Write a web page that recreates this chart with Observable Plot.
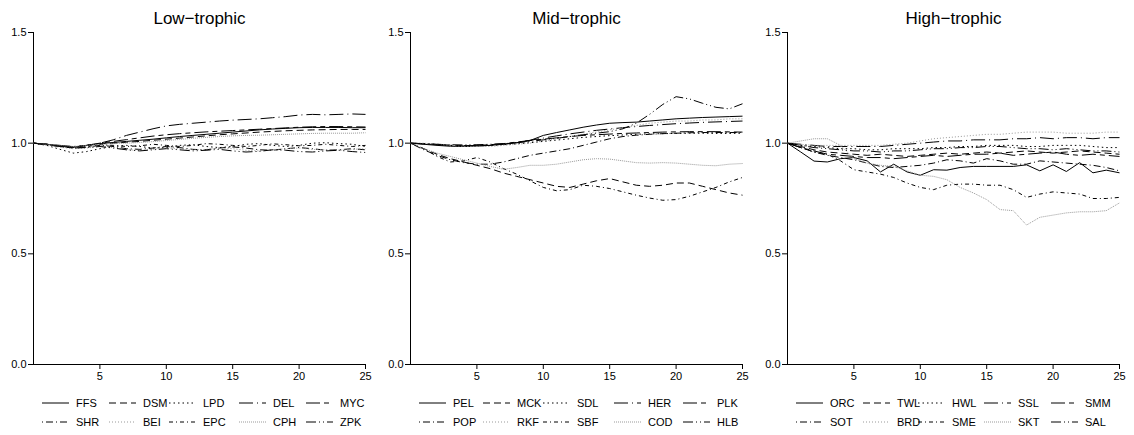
<!DOCTYPE html>
<html>
<head>
<meta charset="utf-8">
<script src="https://cdn.jsdelivr.net/npm/d3@7"></script>
<script src="https://cdn.jsdelivr.net/npm/@observablehq/plot@0.6"></script>
<style>
  html, body { margin: 0; padding: 0; background: #fff; }
  #wrap { position: relative; width: 1134px; height: 435px; font-family: "Liberation Sans", Arial, sans-serif; }
  .panel { position: absolute; top: 0; width: 378px; height: 435px; }
  .panel svg.legend { position: absolute; left: 0; top: 390px; }
</style>
</head>
<body>
<div id="wrap"></div>
<script>
// ---------- data ----------
const xTicks = [5, 10, 15, 20, 25];
const yTicks = [0, 0.5, 1.0, 1.5];
const panelTitles = ["Low\u2212trophic", "Mid\u2212trophic", "High\u2212trophic"];

const lowCodes  = ["FFS", "DSM", "LPD", "DEL", "MYC", "SHR", "BEI", "EPC", "CPH", "ZPK"];
const midCodes  = ["PEL", "MCK", "SDL", "HER", "PLK", "POP", "RKF", "SBF", "COD", "HLB"];
const highCodes = ["ORC", "TWL", "HWL", "SSL", "SMM", "SOT", "BRD", "SME", "SKT", "SAL"];

// values for years 0..25 (one array per group, in the order of the codes)
const lowValues = [
  [1,0.995,0.988,0.982,0.99,0.998,1.003,1.008,1.013,1.018,1.024,1.03,1.035,1.04,1.045,1.05,1.055,1.06,1.064,1.067,1.07,1.071,1.071,1.071,1.07,1.07],
  [1,0.995,0.988,0.982,0.99,0.997,1.0,1.004,1.008,1.013,1.018,1.023,1.028,1.033,1.038,1.042,1.046,1.05,1.053,1.056,1.058,1.06,1.061,1.062,1.062,1.062],
  [1,0.99,0.972,0.955,0.962,0.975,0.985,0.99,0.985,0.978,0.98,0.99,0.993,0.985,0.98,0.985,0.995,0.998,0.99,0.985,0.99,1.0,1.002,0.998,0.995,0.985],
  [1,0.995,0.99,0.985,0.99,1.0,1.015,1.035,1.05,1.065,1.078,1.085,1.09,1.095,1.1,1.104,1.107,1.11,1.115,1.12,1.127,1.13,1.128,1.13,1.132,1.13],
  [1,0.995,0.988,0.982,0.99,1.0,1.008,1.016,1.024,1.032,1.038,1.043,1.047,1.051,1.054,1.057,1.06,1.063,1.066,1.069,1.072,1.074,1.075,1.075,1.074,1.073],
  [1,0.992,0.985,0.978,0.982,0.99,0.985,0.975,0.972,0.978,0.985,0.98,0.972,0.97,0.978,0.983,0.978,0.97,0.968,0.975,0.98,0.975,0.968,0.97,0.975,0.97],
  [1,0.99,0.982,0.975,0.978,0.985,0.98,0.97,0.968,0.972,0.978,0.975,0.97,0.972,0.978,0.975,0.968,0.965,0.97,0.975,0.978,0.972,0.97,0.968,0.972,0.975],
  [1,0.995,0.988,0.98,0.985,0.993,0.99,0.985,0.988,0.995,0.99,0.985,0.99,0.998,0.995,0.99,0.985,0.99,0.997,0.993,0.988,0.99,0.995,0.99,0.985,0.99],
  [1,0.995,0.99,0.985,0.99,0.995,0.998,1.0,1.003,1.007,1.012,1.017,1.022,1.026,1.03,1.033,1.035,1.036,1.038,1.04,1.042,1.044,1.045,1.045,1.045,1.047],
  [1,0.993,0.985,0.978,0.98,0.985,0.978,0.97,0.965,0.97,0.975,0.97,0.965,0.968,0.972,0.965,0.96,0.963,0.97,0.968,0.962,0.96,0.965,0.968,0.962,0.958]
];
const midValues = [
  [1,0.995,0.99,0.986,0.985,0.987,0.99,0.995,1.002,1.012,1.035,1.048,1.06,1.072,1.082,1.09,1.093,1.095,1.1,1.105,1.11,1.113,1.116,1.118,1.12,1.122],
  [1,0.975,0.95,0.93,0.915,0.9,0.885,0.865,0.85,0.835,0.82,0.805,0.8,0.815,0.83,0.84,0.825,0.81,0.805,0.81,0.82,0.82,0.805,0.79,0.775,0.765],
  [1,0.998,0.995,0.99,0.988,0.988,0.99,0.993,0.997,1.002,1.008,1.014,1.02,1.026,1.03,1.034,1.037,1.04,1.042,1.043,1.044,1.045,1.045,1.044,1.044,1.045],
  [1,0.997,0.993,0.99,0.988,0.988,0.99,0.995,1.003,1.013,1.023,1.033,1.042,1.05,1.058,1.064,1.07,1.075,1.08,1.084,1.088,1.091,1.094,1.096,1.098,1.1],
  [1,0.997,0.993,0.99,0.988,0.99,0.993,0.998,1.005,1.012,1.018,1.024,1.03,1.035,1.038,1.041,1.044,1.046,1.048,1.05,1.051,1.052,1.052,1.052,1.051,1.05],
  [1,0.97,0.945,0.925,0.912,0.905,0.905,0.915,0.93,0.945,0.955,0.965,0.975,0.99,1.005,1.02,1.03,1.036,1.04,1.043,1.045,1.047,1.048,1.048,1.048,1.048],
  [1,1.0,0.995,0.99,0.985,0.985,0.985,0.99,0.995,1.0,1.01,1.02,1.03,1.04,1.05,1.06,1.07,1.08,1.09,1.095,1.1,1.1,1.105,1.105,1.11,1.11],
  [1,0.975,0.94,0.915,0.92,0.935,0.915,0.885,0.86,0.83,0.8,0.785,0.79,0.81,0.805,0.795,0.78,0.765,0.752,0.742,0.745,0.76,0.78,0.8,0.825,0.845],
  [1,0.975,0.955,0.94,0.925,0.91,0.895,0.882,0.89,0.9,0.9,0.905,0.915,0.925,0.93,0.928,0.92,0.912,0.91,0.912,0.91,0.905,0.9,0.898,0.905,0.908],
  [1,0.998,0.995,0.993,0.992,0.993,0.995,0.998,1.002,1.008,1.015,1.022,1.03,1.038,1.045,1.052,1.065,1.09,1.13,1.175,1.21,1.2,1.18,1.162,1.155,1.178]
];
const highValues = [
  [1.0,0.96,0.919,0.915,0.93,0.935,0.92,0.87,0.905,0.87,0.855,0.88,0.878,0.89,0.895,0.895,0.895,0.895,0.902,0.875,0.902,0.872,0.912,0.866,0.878,0.866],
  [1,0.985,0.97,0.96,0.955,0.95,0.945,0.95,0.945,0.94,0.945,0.95,0.955,0.95,0.955,0.96,0.955,0.96,0.965,0.96,0.955,0.96,0.965,0.96,0.955,0.95],
  [1,0.99,0.985,0.98,0.975,0.975,0.97,0.97,0.975,0.975,0.975,0.98,0.98,0.985,0.985,0.99,0.99,0.99,0.985,0.985,0.99,0.99,0.99,0.985,0.98,0.98],
  [1,0.995,0.99,0.985,0.985,0.985,0.985,0.985,0.99,0.995,1.0,1.005,1.01,1.01,1.015,1.015,1.015,1.02,1.02,1.025,1.02,1.025,1.025,1.02,1.025,1.025],
  [1,0.98,0.965,0.95,0.945,0.94,0.935,0.935,0.93,0.935,0.94,0.945,0.94,0.945,0.95,0.95,0.955,0.945,0.95,0.955,0.96,0.95,0.945,0.95,0.945,0.94],
  [1,0.98,0.96,0.945,0.935,0.925,0.91,0.895,0.89,0.895,0.9,0.91,0.925,0.92,0.91,0.93,0.92,0.905,0.905,0.92,0.915,0.91,0.905,0.9,0.89,0.875],
  [1,0.995,0.99,0.99,0.99,0.99,0.99,0.99,0.995,1.0,1.01,1.02,1.025,1.03,1.035,1.04,1.04,1.045,1.05,1.05,1.05,1.045,1.045,1.045,1.05,1.05],
  [1,0.98,0.96,0.95,0.92,0.88,0.87,0.86,0.845,0.82,0.8,0.79,0.81,0.815,0.815,0.81,0.81,0.79,0.755,0.77,0.78,0.775,0.77,0.75,0.75,0.755],
  [1,1.01,1.02,1.02,0.99,0.93,0.91,0.9,0.895,0.875,0.855,0.85,0.835,0.8,0.775,0.745,0.7,0.695,0.63,0.665,0.675,0.685,0.69,0.69,0.695,0.73],
  [1,0.99,0.98,0.975,0.97,0.965,0.965,0.96,0.965,0.965,0.97,0.975,0.975,0.98,0.98,0.985,0.985,0.98,0.975,0.975,0.97,0.975,0.97,0.965,0.965,0.96]
];

// ---------- styles ----------
const lineStyles = [
  { dash: null,              color: "#000" },
  { dash: "7,4",             color: "#000" },
  { dash: "1.5,3",           color: "#000" },
  { dash: "14,4,1,4",        color: "#000" },
  { dash: "14,4,5,4",        color: "#000" },
  { dash: "1,3,7,3",         color: "#000" },
  { dash: "1,2",             color: "#999" },
  { dash: "4,3,1,3",         color: "#000" },
  { dash: "1,1",             color: "#999" },
  { dash: "10,3,1,3,1,3",    color: "#000" }
];
const legendLabelX = [
  [76, 143, 203, 273, 340],
  [76, 140, 200, 271, 340],
  [76, 143, 198, 264, 331]
];

const groups = [
  { title: panelTitles[0], codes: lowCodes,  values: lowValues },
  { title: panelTitles[1], codes: midCodes,  values: midValues },
  { title: panelTitles[2], codes: highCodes, values: highValues }
];

const wrap = document.getElementById("wrap");
const FONT = "'Liberation Sans', Arial, Helvetica, sans-serif";

groups.forEach((g, gi) => {
  const panel = document.createElement("div");
  panel.className = "panel";
  panel.style.left = (gi * 377) + "px";
  wrap.appendChild(panel);

  const marks = [];
  g.codes.forEach((code, si) => {
    const rows = g.values[si].map((v, i) => ({ year: i, value: v, code }));
    const st = lineStyles[si];
    const opts = { x: "year", y: "value", stroke: st.color, strokeWidth: 1, strokeLinecap: "butt", strokeLinejoin: "round" };
    if (st.dash) opts.strokeDasharray = st.dash;
    marks.push(Plot.line(rows, opts));
  });

  const chart = Plot.plot({
    width: 378,
    height: 390,
    marginLeft: 33,
    marginRight: 13,
    marginTop: 32,
    marginBottom: 26,
    style: { fontFamily: FONT, fontSize: "11px", color: "#000", background: "#fff", overflow: "visible" },
    x: { domain: [0, 25], nice: false },
    y: { domain: [0, 1.5], nice: false },
    marks: [
      Plot.axisX({ ticks: xTicks, tickSize: 5, tickPadding: 3, label: null, fontSize: 11 }),
      Plot.axisY({ ticks: yTicks, tickSize: 5, tickPadding: 2, tickFormat: d3.format(".1f"), label: null, fontSize: 11 }),
      Plot.ruleX([0], { y1: 0, y2: 1.5, stroke: "#000", strokeWidth: 1 }),
      Plot.ruleY([0], { x1: 0, x2: 25, stroke: "#000", strokeWidth: 1 }),
      ...marks,
      Plot.text([g.title], { frameAnchor: "top", dy: -14, text: d => d, fontSize: 17, fill: "#000", lineAnchor: "middle" })
    ]
  });
  panel.appendChild(chart);

  // legend (two rows of five)
  const leg = d3.select(panel).append("svg")
    .attr("class", "legend")
    .attr("width", 378).attr("height", 45);
  g.codes.forEach((code, si) => {
    const row = Math.floor(si / 5), col = si % 5;
    const lx = legendLabelX[gi][col];
    const cy = 13 + row * 19;
    const st = lineStyles[si];
    leg.append("line")
      .attr("x1", lx - 34).attr("x2", lx - 7)
      .attr("y1", cy).attr("y2", cy)
      .attr("stroke", st.color).attr("stroke-width", 1)
      .attr("stroke-dasharray", st.dash || null);
    leg.append("text")
      .attr("x", lx).attr("y", cy + 4)
      .attr("font-family", FONT).attr("font-size", 11)
      .attr("fill", "#000")
      .text(code);
  });
});
</script>
</body>
</html>
